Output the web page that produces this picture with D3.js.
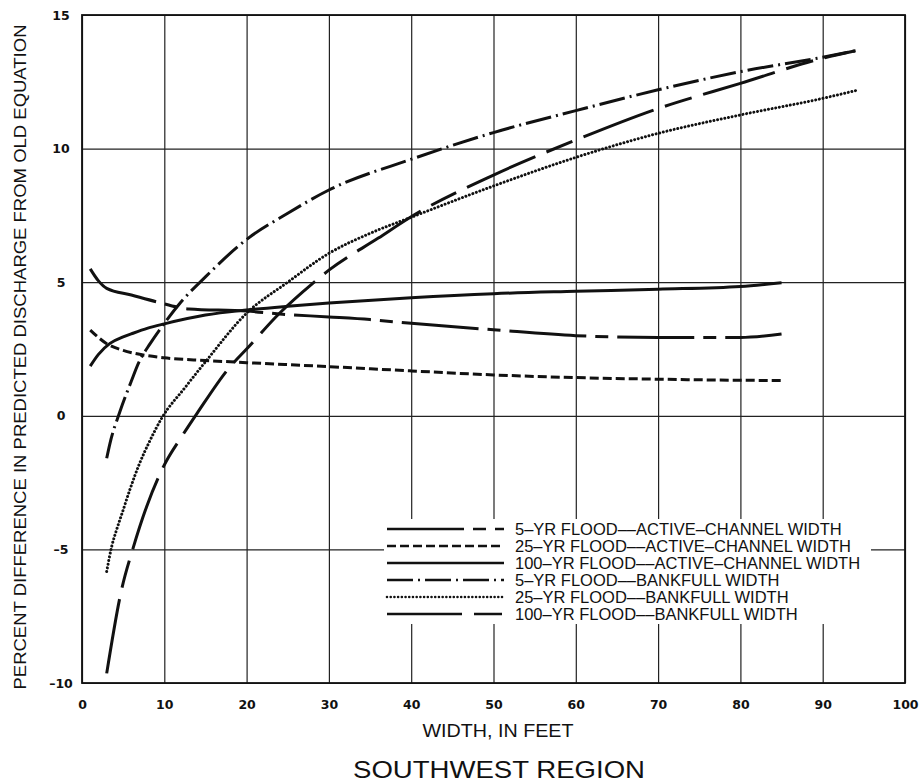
<!DOCTYPE html>
<meta charset="utf-8">
<script src="https://cdn.jsdelivr.net/npm/d3@7"></script>
<style>
body { margin: 0; background: #fff; }
text { font-family: "Liberation Sans", Arial, sans-serif; fill: #111; }
.tick text { font-family: "DejaVu Sans", sans-serif; font-weight: bold; font-size: 12.5px; fill: #111; }
.grid line { stroke: #222; stroke-width: 1.2px; }
.grid path { display: none; }
path.curve { fill: none; stroke: #111; stroke-width: 3px; }
</style>
<body>
<script>

// tick labels
var xTicks = [0, 10, 20, 30, 40, 50, 60, 70, 80, 90, 100];
var yTicks = [-10, -5, 0, 5, 10, 15];

// series (width in feet, percent difference)
var seriesNames = [
  "5\u2013YR FLOOD\u2013\u2013ACTIVE\u2013CHANNEL WIDTH",
  "25\u2013YR FLOOD\u2013\u2013ACTIVE\u2013CHANNEL WIDTH",
  "100\u2013YR FLOOD\u2013\u2013ACTIVE\u2013CHANNEL WIDTH",
  "5\u2013YR FLOOD\u2013\u2013BANKFULL WIDTH",
  "25\u2013YR FLOOD\u2013\u2013BANKFULL WIDTH",
  "100\u2013YR FLOOD\u2013\u2013BANKFULL WIDTH"
];

var w5Active   = [1, 2, 3, 6, 9, 13, 20, 24, 30, 35, 40, 50, 60, 70, 80, 85];
var pct5Active = [5.5, 5.05, 4.77, 4.52, 4.27, 4.0, 3.92, 3.81, 3.7, 3.6, 3.46, 3.22, 3.0, 2.93, 2.93, 3.06];

var w25Active   = [1, 3, 5, 7, 10, 15, 20, 30, 40, 50, 60, 70, 80, 85];
var pct25Active = [3.21, 2.7, 2.45, 2.3, 2.17, 2.07, 1.99, 1.84, 1.68, 1.53, 1.43, 1.37, 1.33, 1.32];

var w100Active   = [1, 2, 3.4, 5, 6.2, 8, 10, 15, 20, 25, 30, 40, 50, 60, 70, 80, 85];
var pct100Active = [1.86, 2.3, 2.71, 2.95, 3.09, 3.28, 3.44, 3.77, 3.96, 4.1, 4.22, 4.42, 4.57, 4.66, 4.74, 4.84, 4.98];

var w5Bank   = [3, 3.4, 4.6, 6, 6.85, 8.3, 10, 12, 15, 20, 25, 30, 40, 50, 60, 70, 80, 90, 94];
var pct5Bank = [-1.59, -1.03, 0.15, 1.3, 1.96, 2.71, 3.46, 4.25, 5.2, 6.6, 7.58, 8.45, 9.6, 10.6, 11.42, 12.2, 12.88, 13.42, 13.66];

var w25Bank   = [3, 3.6, 4.2, 5, 5.8, 7, 8.3, 9.7, 12.5, 15, 20, 25, 30, 35, 40, 50, 60, 70, 80, 90, 94];
var pct25Bank = [-5.83, -4.9, -4.27, -3.53, -2.78, -1.78, -0.9, -0.08, 1.05, 2.02, 3.84, 5.0, 6.08, 6.83, 7.43, 8.6, 9.67, 10.57, 11.26, 11.88, 12.17];

var w100Bank   = [3, 4.8, 6.2, 7.85, 9.9, 12.3, 14, 18, 20, 24, 28, 30, 36, 40, 50, 60, 70, 80, 90, 94];
var pct100Bank = [-9.64, -6.52, -4.96, -3.4, -1.9, -0.69, 0.1, 1.84, 2.5, 3.84, 4.95, 5.45, 6.65, 7.45, 9.01, 10.32, 11.5, 12.44, 13.38, 13.66];

var widths = [w5Active, w25Active, w100Active, w5Bank, w25Bank, w100Bank];
var pcts = [pct5Active, pct25Active, pct100Active, pct5Bank, pct25Bank, pct100Bank];

// line styles for each series
var dashes = ["77,9,13,9", "9,4", null, "26,5,2,5", "0.01,3.7", "75,12,28,12"];

var width = 920,
    height = 782,
    margin = {top: 15, right: 15, bottom: 99, left: 82},
    plotW = width - margin.left - margin.right,
    plotH = height - margin.top - margin.bottom;

var svg = d3.select("body").append("svg")
    .attr("width", width)
    .attr("height", height);

var g = svg.append("g")
    .attr("transform", "translate(" + margin.left + "," + margin.top + ")");

var x = d3.scaleLinear().domain([0, 100]).range([0, plotW]);
var y = d3.scaleLinear().domain([-10, 15]).range([plotH, 0]);

// grid + tick labels
var xAxis = g.append("g")
    .attr("class", "grid")
    .attr("transform", "translate(0," + plotH + ")")
    .call(d3.axisBottom(x).tickValues(xTicks).tickSize(-plotH).tickPadding(17).tickFormat(d3.format("d")));

var yAxis = g.append("g")
    .attr("class", "grid")
    .call(d3.axisLeft(y).tickValues(yTicks).tickSize(-plotW).tickPadding(12)
      .tickFormat(function(d) { return d < 0 ? "\u2013" + (-d) : d; }));

yAxis.selectAll("text")
    .attr("text-anchor", "middle")
    .attr("x", -21);

// legend box (white, cuts the grid)
var legX = 387, legY0 = 529, legStep = 17;

svg.append("rect")
    .attr("x", 384)
    .attr("y", 519)
    .attr("width", 487)
    .attr("height", 105)
    .attr("fill", "#fff");

var line = d3.line()
    .x(function(d) { return x(d[0]); })
    .y(function(d) { return y(d[1]); })
    .curve(d3.curveMonotoneX);

widths.forEach(function(ws, i) {
  var pts = ws.map(function(w, j) { return [w, pcts[i][j]]; });
  var p = g.append("path")
      .attr("class", "curve")
      .attr("d", line(pts));
  if (dashes[i]) p.attr("stroke-dasharray", dashes[i]);
  if (i == 4) p.attr("stroke-linecap", "round").attr("stroke-width", 2.8);
});

// legend rows
seriesNames.forEach(function(name, i) {
  var yy = legY0 + i * legStep;
  var l = svg.append("line")
      .attr("x1", legX)
      .attr("x2", 504)
      .attr("y1", yy)
      .attr("y2", yy)
      .attr("stroke", "#111")
      .attr("stroke-width", 2.6);
  if (dashes[i]) l.attr("stroke-dasharray", dashes[i]);
  if (i == 4) l.attr("stroke-linecap", "round");
  svg.append("text")
      .attr("x", 515)
      .attr("y", yy + 6)
      .style("font-size", "16.5px")
      .text(name);
});

// frame
g.append("rect")
    .attr("width", plotW)
    .attr("height", plotH)
    .attr("fill", "none")
    .attr("stroke", "#111")
    .attr("stroke-width", 1.8);

// axis titles
svg.append("text")
    .attr("transform", "translate(26,357) rotate(-90)")
    .attr("text-anchor", "middle")
    .attr("textLength", 665)
    .attr("lengthAdjust", "spacingAndGlyphs")
    .style("font-size", "17px")
    .text("PERCENT DIFFERENCE IN PREDICTED DISCHARGE FROM OLD EQUATION");

svg.append("text")
    .attr("x", 498)
    .attr("y", 737)
    .attr("text-anchor", "middle")
    .attr("textLength", 151)
    .attr("lengthAdjust", "spacingAndGlyphs")
    .style("font-size", "19px")
    .text("WIDTH, IN FEET");

svg.append("text")
    .attr("x", 499)
    .attr("y", 778)
    .attr("text-anchor", "middle")
    .attr("textLength", 292)
    .attr("lengthAdjust", "spacingAndGlyphs")
    .style("font-size", "24px")
    .text("SOUTHWEST REGION");

</script>
</body>
</html>
